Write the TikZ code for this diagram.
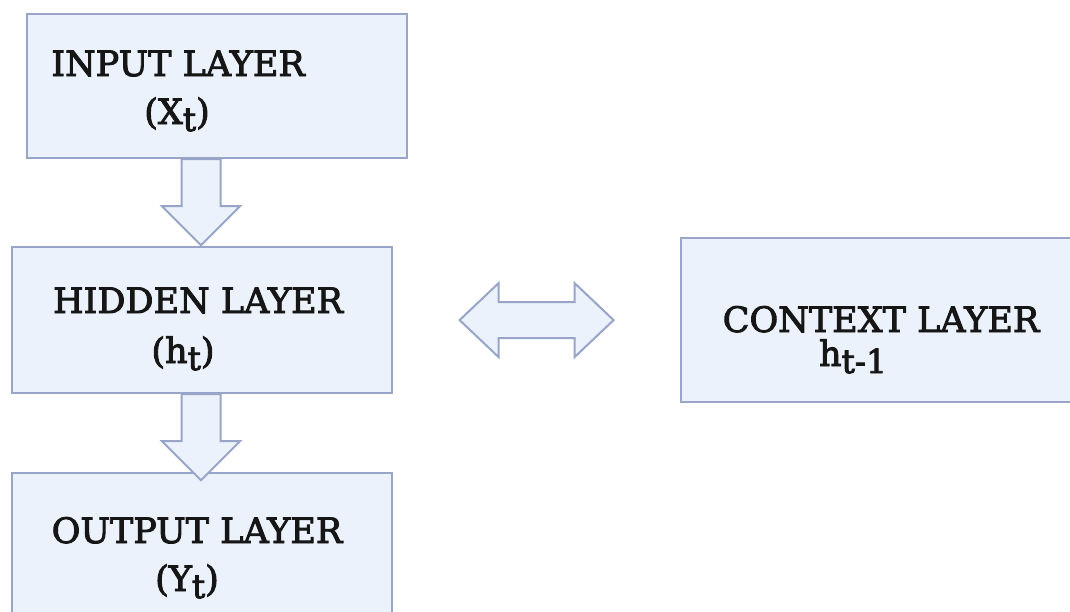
\documentclass[tikz,border=0pt]{standalone}
\usepackage{fontspec}
\setmainfont{DejaVu Serif}
\newfontfamily\labelfont[FakeBold=2.6]{DejaVu Serif}
\usetikzlibrary{calc}

\definecolor{boxfill}{HTML}{EBF2FC}
\definecolor{boxline}{HTML}{98A5C9}
\definecolor{ink}{HTML}{161616}

% lowered index letters next to the layer symbols
\newcommand{\idx}[1]{\raisebox{-0.2em}{\fontsize{33}{33}\selectfont #1}}

\tikzset{
  layer/.style={draw=boxline, fill=boxfill, line width=2.2pt, inner sep=0pt, anchor=north west},
  title/.style={font=\labelfont\fontsize{35}{35}\selectfont, text=ink, inner sep=0pt, anchor=base},
  blockarrow/.style={draw=boxline, fill=boxfill, line width=2pt, line join=miter},
}

% hollow block arrow pointing down from #1, 86 units long
\newcommand{\blockdown}[1]{%
  \draw[blockarrow] let \p1=(#1) in
    (\x1-19.5pt,\y1) -- (\x1-19.5pt,\y1-47pt) -- (\x1-39pt,\y1-47pt) --
    (\x1,\y1-86pt) -- (\x1+39pt,\y1-47pt) -- (\x1+19.5pt,\y1-47pt) --
    (\x1+19.5pt,\y1) -- cycle;}

\begin{document}
\begin{tikzpicture}[x=1pt, y=-1pt]
  \useasboundingbox (0,0) rectangle (1070,611);
  \clip (0,0) rectangle (1070,611);
  \fill[white] (0,0) rectangle (1070,611);

  % layer boxes
  \node[layer, minimum width=380pt, minimum height=144pt] (in)  at (26,13)  {};
  \node[layer, minimum width=380pt, minimum height=146pt] (hid) at (11,246) {};
  \node[layer, minimum width=380pt, minimum height=200pt] (out) at (11,472) {};
  \node[layer, minimum width=420pt, minimum height=164pt] (ctx) at (680,237) {};

  % labels
  \node[title] (inA)  at (178,76)  {INPUT LAYER};
  \node[title] (inB)  at (177,124) {(X\idx{t})};
  \node[title] (hidA) at (198,313) {HIDDEN LAYER};
  \node[title] (hidB) at (183,363) {(h\idx{t})};
  \node[title] (outA) at (197,543) {OUTPUT LAYER};
  \node[title] (outB) at (187,591) {(Y\idx{t})};
  \node[title] (ctxA) at (881,332) {CONTEXT LAYER};
  \node[title] (ctxB) at (853,366) {h\idx{t-1}};

  % downward flow between the stacked layers
  \coordinate (a1) at (201,0 |- in.south);
  \coordinate (a2) at (201,0 |- hid.south);
  \blockdown{a1}
  \blockdown{a2}

  % two-way exchange between hidden and context layers
  \coordinate (mid) at ($(hid.east)!0.5!(ctx.west)$);
  \draw[blockarrow] let \p1=(mid) in
    (\x1-77pt,\y1) -- (\x1-38pt,\y1+37pt) -- (\x1-38pt,\y1+18pt) --
    (\x1+38pt,\y1+18pt) -- (\x1+38pt,\y1+37pt) -- (\x1+77pt,\y1) --
    (\x1+38pt,\y1-37pt) -- (\x1+38pt,\y1-18pt) -- (\x1-38pt,\y1-18pt) --
    (\x1-38pt,\y1-37pt) -- cycle;
\end{tikzpicture}
\end{document}
